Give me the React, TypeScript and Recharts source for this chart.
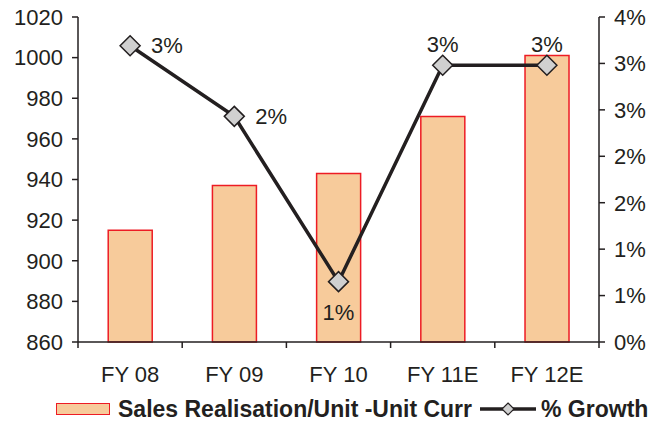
import React from "react";
import {
  ComposedChart, Bar, Line, XAxis, YAxis, Legend, LabelList,
} from "recharts";

// values
const YEARS = ["FY 08", "FY 09", "FY 10", "FY 11E", "FY 12E"];
const REALISATION = [915, 937, 943, 971, 1001];
const GROWTH = [3.19, 2.43, 0.65, 2.98, 2.98];
const LEFT_TICKS = [860, 880, 900, 920, 940, 960, 980, 1000, 1020];
const RIGHT_TICKS = [0, 0.5, 1, 1.5, 2, 2.5, 3, 3.5];
const LABEL_SIDE = ["right", "right", "bottom", "top", "top"];

const INK = "#231F20";
const FONT = "'Liberation Sans', Arial, Helvetica, sans-serif";
const TICK_SIZE = 6;
const X_TICK_MARGIN = 18;

const rows = YEARS.map((year, i) => ({
  year,
  realisation: REALISATION[i],
  growth: GROWTH[i],
}));

const pct = (v: number) => `${Math.round(v)}%`;

function CategoryTick(props: any) {
  const { x, y, payload, index, visibleTicksCount } = props;
  const half = payload?.offset ?? 0;
  const axisY = y - TICK_SIZE - X_TICK_MARGIN;
  return (
    <g>
      <line x1={x - half} x2={x - half} y1={axisY} y2={axisY + TICK_SIZE} stroke={INK} strokeWidth={1.5} />
      {index === visibleTicksCount - 1 && (
        <line x1={x + half} x2={x + half} y1={axisY} y2={axisY + TICK_SIZE} stroke={INK} strokeWidth={1.5} />
      )}
      <text x={x} y={y} dy="0.71em" textAnchor="middle" fill={INK} fontSize={22} fontFamily={FONT}>
        {payload.value}
      </text>
    </g>
  );
}

function Diamond(props: any) {
  const { cx, cy } = props;
  if (cx == null || cy == null) return null;
  const r = 10;
  return (
    <polygon
      points={`${cx},${cy - r} ${cx + r},${cy} ${cx},${cy + r} ${cx - r},${cy}`}
      fill="#D0D0D0"
      stroke={INK}
      strokeWidth={1.5}
    />
  );
}

function GrowthLabel(props: any) {
  const { x, y, value, index } = props;
  const side = LABEL_SIDE[index];
  let tx = x, ty = y, anchor: "start" | "middle" = "middle", dy = "0.35em";
  if (side === "right") { tx = x + 21; anchor = "start"; }
  if (side === "bottom") { ty = y + 38; dy = "0"; }
  if (side === "top") { ty = y - 13; dy = "0"; }
  return (
    <text x={tx} y={ty} dy={dy} textAnchor={anchor} fill={INK} fontSize={22} fontFamily={FONT}>
      {pct(value)}
    </text>
  );
}

function ChartLegend() {
  return (
    <div style={{ display: "flex", alignItems: "center", height: 24, paddingLeft: 56, fontFamily: FONT, fontWeight: 700, fontSize: 23, color: INK, whiteSpace: "nowrap" }}>
      <span style={{ width: 52, height: 10, background: "#F7CB9B", border: "1.5px solid #ED1C24", display: "inline-block" }} />
      <span style={{ marginLeft: 8 }}>Sales Realisation/Unit -Unit Curr</span>
      <svg width={56} height={24} style={{ marginLeft: 8 }}>
        <line x1={0} x2={56} y1={12} y2={12} stroke={INK} strokeWidth={3.5} />
        <polygon points="28,6 34,12 28,18 22,12" fill="#D0D0D0" stroke={INK} strokeWidth={1.2} />
      </svg>
      <span style={{ marginLeft: 5 }}>% Growth</span>
    </div>
  );
}

export default function App() {
  return (
    <div style={{ position: "absolute", left: 0, top: 0, background: "#fff" }}>
      <ComposedChart
        width={663}
        height={423}
        data={rows}
        margin={{ top: 17, right: 0, bottom: 2, left: 0 }}
        barCategoryGap="29%"
      >
        <XAxis
          dataKey="year"
          height={55}
          tickLine={false}
          tickSize={TICK_SIZE}
          tickMargin={X_TICK_MARGIN}
          axisLine={{ stroke: INK, strokeWidth: 1.5 }}
          tick={<CategoryTick />}
          interval={0}
        />
        <YAxis
          yAxisId="left"
          width={78}
          domain={[860, 1020]}
          ticks={LEFT_TICKS}
          interval={0}
          tickSize={TICK_SIZE}
          tickMargin={9}
          axisLine={{ stroke: INK, strokeWidth: 1.5 }}
          tickLine={{ stroke: INK, strokeWidth: 1.5 }}
          tick={{ fill: INK, fontSize: 22, fontFamily: FONT }}
        />
        <YAxis
          yAxisId="right"
          orientation="right"
          width={64}
          domain={[0, 3.5]}
          ticks={RIGHT_TICKS}
          interval={0}
          tickFormatter={pct}
          tickSize={TICK_SIZE}
          tickMargin={9}
          axisLine={{ stroke: INK, strokeWidth: 1.5 }}
          tickLine={{ stroke: INK, strokeWidth: 1.5 }}
          tick={{ fill: INK, fontSize: 22, fontFamily: FONT }}
        />
        <Legend verticalAlign="bottom" content={<ChartLegend />} />
        <Bar
          yAxisId="left"
          dataKey="realisation"
          name="Sales Realisation/Unit -Unit Curr"
          fill="#F7CB9B"
          stroke="#ED1C24"
          strokeWidth={1.5}
          isAnimationActive={false}
        />
        <Line
          yAxisId="right"
          dataKey="growth"
          name="% Growth"
          type="linear"
          stroke={INK}
          strokeWidth={3.5}
          dot={<Diamond />}
          activeDot={false}
          isAnimationActive={false}
        >
          <LabelList dataKey="growth" content={<GrowthLabel />} />
        </Line>
      </ComposedChart>
    </div>
  );
}
